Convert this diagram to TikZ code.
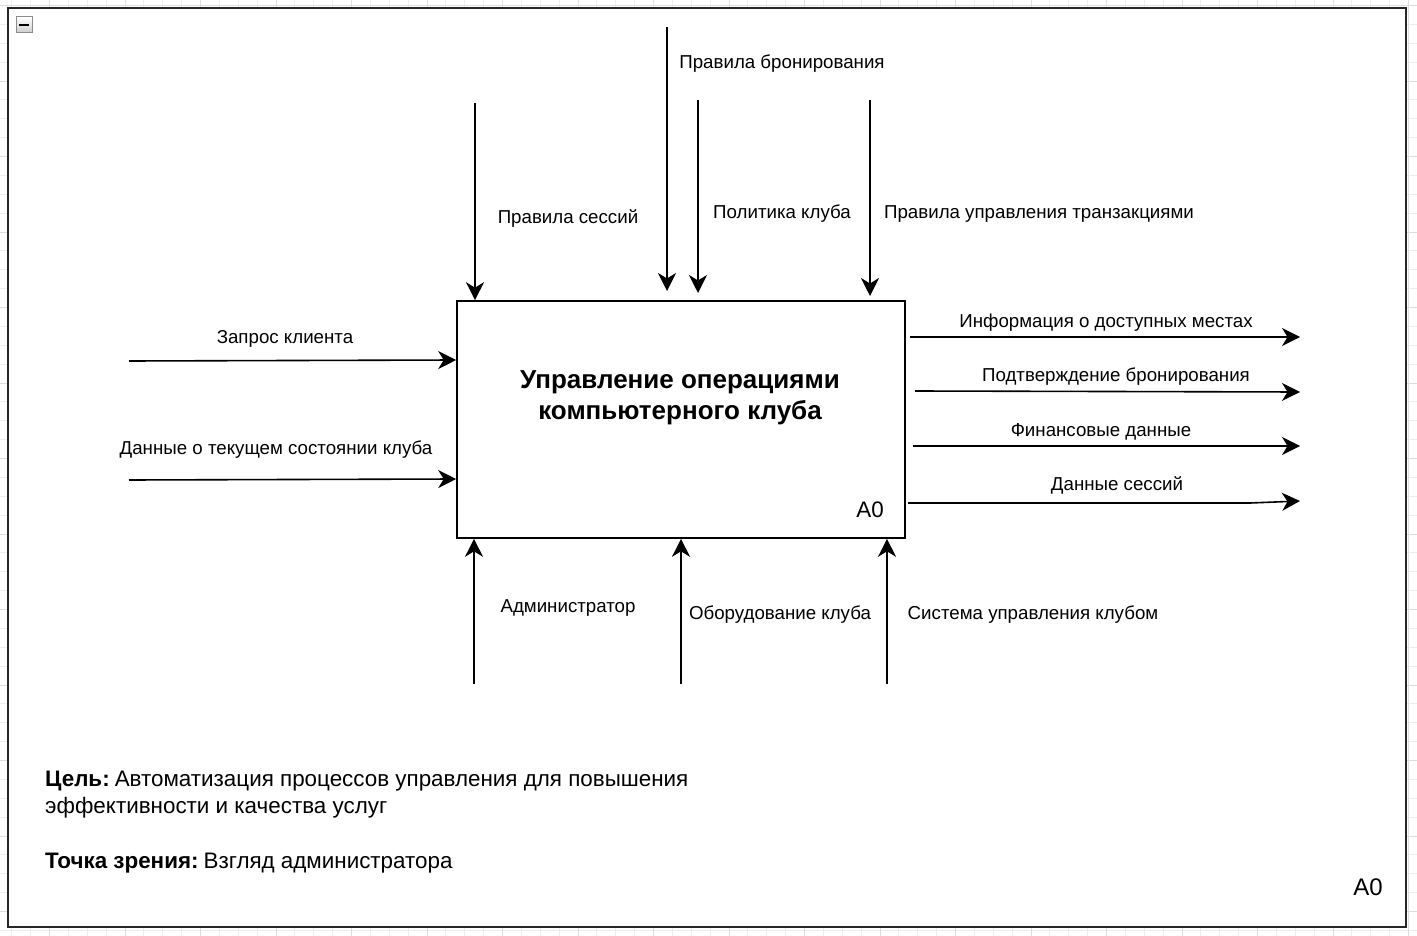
\documentclass[tikz,border=0pt]{standalone}
\usepackage{fontspec}
\setmainfont{Liberation Sans}
\usetikzlibrary{arrows.meta}
\begin{document}
\begin{tikzpicture}[x=1pt,y=-1pt,
  flow/.style={line width=1.6pt,-{Stealth[length=18pt,width=18pt,inset=5.5pt]}},
  lbl/.style={font=\fontsize{18.7}{22}\selectfont,inner sep=0pt},
  big/.style={font=\fontsize{22.4}{27}\selectfont,inner sep=0pt}]
\useasboundingbox (0,0) rectangle (1417,936);
% canvas grid
\foreach \i in {0,...,75} {
  \pgfmathsetmacro\gx{11.75+18.875*\i}
  \draw[black!7,line width=0.8pt] (\gx,0) -- (\gx,936);
}
\foreach \i in {0,...,50} {
  \pgfmathsetmacro\gy{5.5+18.875*\i}
  \draw[black!7,line width=0.8pt] (0,\gy) -- (1417,\gy);
}
\foreach \i in {0,...,19} {
  \pgfmathsetmacro\gx{49.5+75.5*\i-75.5}
  \draw[black!13,line width=0.8pt] (\gx,0) -- (\gx,936);
}
\foreach \i in {0,...,13} {
  \pgfmathsetmacro\gy{81+75.5*\i-75.5}
  \draw[black!13,line width=0.8pt] (0,\gy) -- (1417,\gy);
}
% outer frame
\draw[line width=2pt,fill=white,draw=black!85] (8,8) rectangle (1406,927);
% collapse icon
\node[draw=black!45,line width=1pt,top color=white,bottom color=black!20,
  minimum width=16pt,minimum height=16pt,inner sep=0pt] (icon) at (24,25) {};
\draw[line width=1.8pt] ([xshift=-5pt]icon.center) -- ([xshift=5pt]icon.center);

% function box
\node[draw,line width=1.6pt,minimum width=448pt,minimum height=237pt,inner sep=0pt]
  (main) at (681,419.5) {};
\node[font=\bfseries\fontsize{26}{31}\selectfont,align=center,inner sep=0pt]
  (title) at (680,397.5) {Управление операциями\\компьютерного клуба};
\node[big] (boxid) at (870,510) {A0};

% controls (top)
\coordinate (c1) at (475,103);
\coordinate (c2) at (667,27);   \coordinate (c2e) at (667,291);
\coordinate (c3) at (698,100);  \coordinate (c3e) at (698,293);
\coordinate (c4) at (870,100);  \coordinate (c4e) at (870,296);
\draw[flow] (c1) -- (c1 |- main.north);
\draw[flow] (c2) -- (c2e);
\draw[flow] (c3) -- (c3e);
\draw[flow] (c4) -- (c4e);
\node[lbl] (lc1) at (568,219) {Правила сессий};
\node[lbl] (lc2) at (782,64) {Правила бронирования};
\node[lbl] (lc3) at (782,214) {Политика клуба};
\node[lbl] (lc4) at (1039,214) {Правила управления транзакциями};

% inputs (left)
\coordinate (i1) at (129,361);
\coordinate (i2) at (129,480);
\draw[flow] (i1) -- (main.west |- 0,360);
\draw[flow] (i2) -- (main.west |- 0,479);
\node[lbl] (li1) at (285,339) {Запрос клиента};
\node[lbl] (li2) at (276,450) {Данные о текущем состоянии клуба};

% outputs (right)
\coordinate (o1s) at (910,337); \coordinate (o1) at (1300,337);
\coordinate (o2s) at (915,391); \coordinate (o2) at (1300,392);
\coordinate (o3s) at (913,446); \coordinate (o3) at (1300,446);
\coordinate (o4s) at (908,503); \coordinate (o4) at (1300,501);
\draw[flow] (o1s) -- (o1);
\draw[flow] (o2s) -- (o2);
\draw[flow] (o3s) -- (o3);
\draw[flow] (o4s) -- (1250,503) -- (o4);
\node[lbl] (lo1) at (1106,323) {Информация о доступных местах};
\node[lbl] (lo2) at (1116,377) {Подтверждение бронирования};
\node[lbl] (lo3) at (1101,432) {Финансовые данные};
\node[lbl] (lo4) at (1117,485) {Данные сессий};

% mechanisms (bottom)
\coordinate (m1) at (474,684);
\coordinate (m2) at (681,684);
\coordinate (m3) at (887,684);
\draw[flow] (m1) -- (m1 |- main.south);
\draw[flow] (m2) -- (m2 |- main.south);
\draw[flow] (m3) -- (m3 |- main.south);
\node[lbl] (lm1) at (568,608) {Администратор};
\node[lbl] (lm2) at (780,615) {Оборудование клуба};
\node[lbl] (lm3) at (1033,615) {Система управления клубом};

% purpose and viewpoint
\node[big,anchor=west,align=left] (goal) at (45,794.5)
  {\textbf{Цель:}\hspace{5pt}Автоматизация процессов управления для повышения\\эффективности и качества услуг};
\node[big,anchor=west] (view) at (45,863) {\textbf{Точка зрения:}\hspace{5pt}Взгляд администратора};
\node[font=\fontsize{24}{28}\selectfont,inner sep=0pt] (diagid) at (1368,887) {A0};
\end{tikzpicture}
\end{document}
